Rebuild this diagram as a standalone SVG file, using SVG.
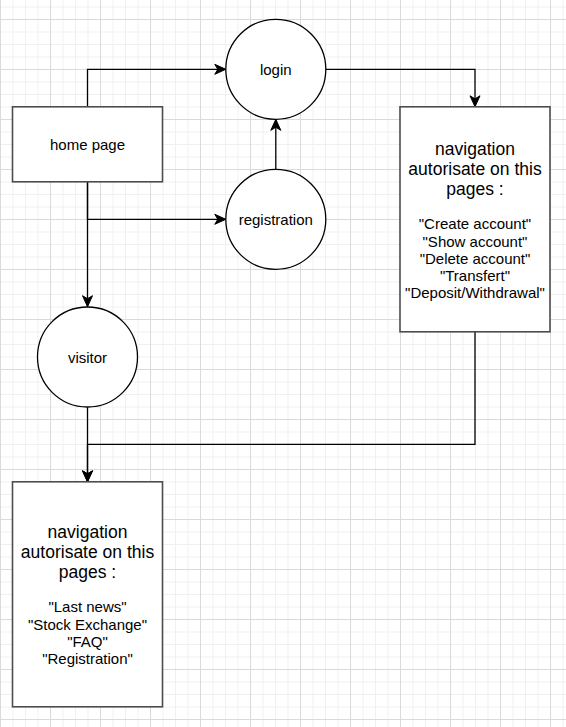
<svg xmlns="http://www.w3.org/2000/svg" width="566" height="727" viewBox="0 0 566 727">
  <defs>
    <pattern id="minor" patternUnits="userSpaceOnUse" x="0" y="6.5" width="12.5" height="12.5">
      <path d="M0,0.5 H12.5 M0.5,0 V12.5" stroke="#f0f0f0" stroke-width="1" fill="none"/>
    </pattern>
    <pattern id="major" patternUnits="userSpaceOnUse" x="0" y="19" width="50" height="50">
      <path d="M0,0.5 H50 M0.5,0 V50" stroke="#dadada" stroke-width="1" fill="none"/>
    </pattern>
    <marker id="arrow" markerUnits="userSpaceOnUse" orient="auto" viewBox="-12 -6 13 12" refX="0" refY="0" markerWidth="13" markerHeight="12">
      <path d="M0,0 L-11,-5 L-8,0 L-11,5 Z" fill="#000" stroke="#000" stroke-width="1" stroke-linejoin="miter"/>
    </marker>
  </defs>
  <style>
    .box { fill: #ffffff; stroke: #4d4d4d; stroke-width: 1.6; }
    .circ { fill: #ffffff; stroke: #000000; stroke-width: 1.3; }
    .edge { fill: none; stroke: #000000; stroke-width: 1.3; }
    .lbl { font-family: "Liberation Sans", Arial, sans-serif; font-size: 15px; fill: #000; text-anchor: middle; }
    .title { font-family: "Liberation Sans", Arial, sans-serif; font-size: 17.5px; fill: #000; text-anchor: middle; }
  </style>
  <rect x="0" y="0" width="566" height="727" fill="#ffffff"/>
  <rect x="0" y="0" width="566" height="727" fill="url(#minor)"/>
  <rect x="0" y="0" width="566" height="727" fill="url(#major)"/>

  <g id="connectors">
    <path class="edge" d="M87.5,106.8 V69.3 H225.8" marker-end="url(#arrow)"/>
    <path class="edge" d="M87.5,182 V219.3 H225.8" marker-end="url(#arrow)"/>
    <path class="edge" d="M87.5,182 V306.7" marker-end="url(#arrow)"/>
    <path class="edge" d="M275.8,169.3 V119.3" marker-end="url(#arrow)"/>
    <path class="edge" d="M325.8,69.3 H475 V106.8" marker-end="url(#arrow)"/>
    <path class="edge" d="M87.5,407.3 V481.8" marker-end="url(#arrow)"/>
    <path class="edge" d="M475,331.8 V444.3 H87.5 V481.8" marker-end="url(#arrow)"/>
  </g>

  <g id="home-page">
    <rect class="box" x="12.5" y="106.8" width="150" height="75"/>
    <text class="lbl" x="87.5" y="149.5">home page</text>
  </g>

  <g id="login">
    <circle class="circ" cx="275.8" cy="69.3" r="50"/>
    <text class="lbl" x="275.8" y="75">login</text>
  </g>

  <g id="registration">
    <circle class="circ" cx="275.8" cy="219.3" r="50"/>
    <text class="lbl" x="275.8" y="225">registration</text>
  </g>

  <g id="visitor">
    <circle class="circ" cx="87.5" cy="357" r="50"/>
    <text class="lbl" x="87.5" y="362.7">visitor</text>
  </g>

  <g id="nav-auth">
    <rect class="box" x="400" y="106.8" width="150" height="225"/>
    <text class="title" x="475" y="155">navigation</text>
    <text class="title" x="475" y="175">autorisate on this</text>
    <text class="title" x="475" y="195">pages :</text>
    <text class="lbl" x="475" y="229.2">"Create account"</text>
    <text class="lbl" x="475" y="246.5">"Show account"</text>
    <text class="lbl" x="475" y="263.8">"Delete account"</text>
    <text class="lbl" x="475" y="281.1">"Transfert"</text>
    <text class="lbl" x="475" y="298.4">"Deposit/Withdrawal"</text>
  </g>

  <g id="nav-visitor">
    <rect class="box" x="12.5" y="481.8" width="150" height="225"/>
    <text class="title" x="87.5" y="537.5">navigation</text>
    <text class="title" x="87.5" y="557.5">autorisate on this</text>
    <text class="title" x="87.5" y="577.5">pages :</text>
    <text class="lbl" x="87.5" y="612.3">"Last news"</text>
    <text class="lbl" x="87.5" y="629.6">"Stock Exchange"</text>
    <text class="lbl" x="87.5" y="646.9">"FAQ"</text>
    <text class="lbl" x="87.5" y="664.2">"Registration"</text>
  </g>
</svg>
